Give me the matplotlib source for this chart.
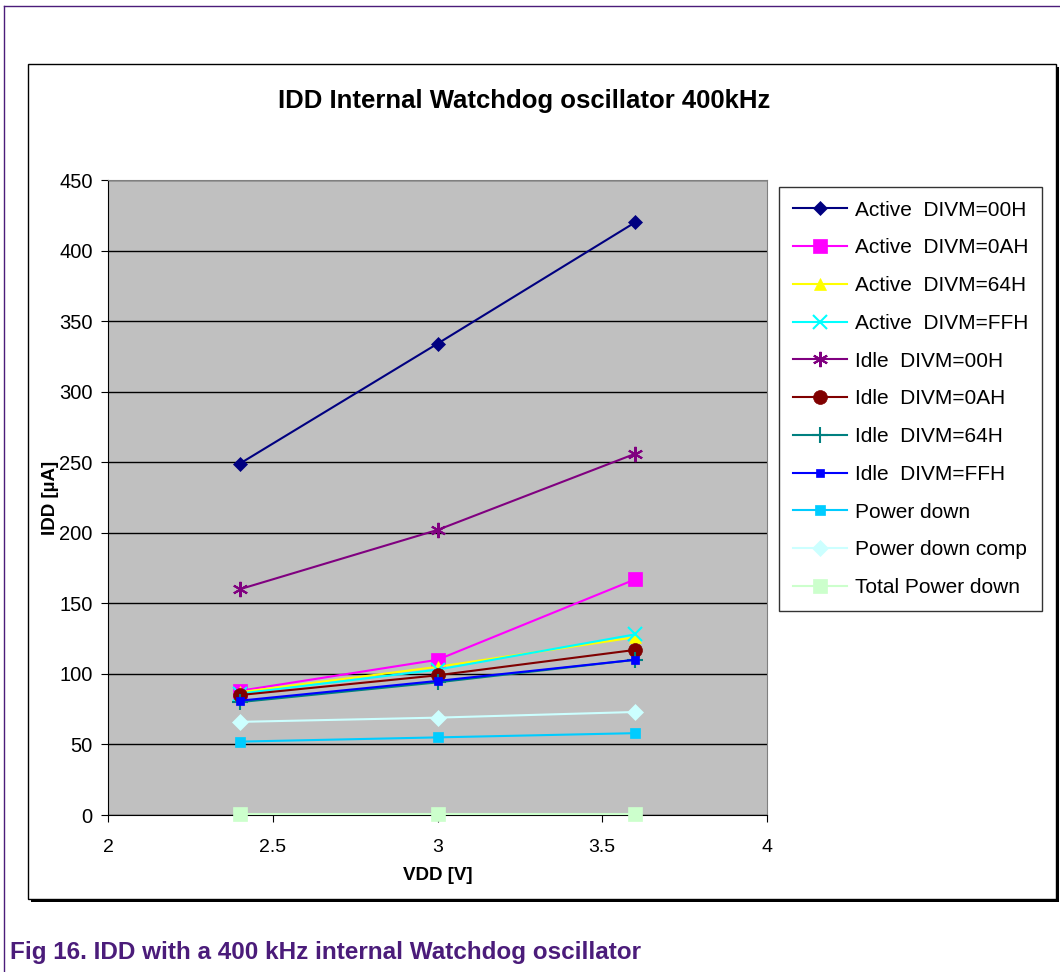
import matplotlib
matplotlib.use("Agg")
import matplotlib.pyplot as plt
from matplotlib.patches import Rectangle
from matplotlib.lines import Line2D

plt.rcParams['font.family'] = ['Liberation Sans', 'DejaVu Sans']

# data
vdd = [2.4, 3.0, 3.6]
series_names = ["Active  DIVM=00H", "Active  DIVM=0AH", "Active  DIVM=64H", "Active  DIVM=FFH",
                "Idle  DIVM=00H", "Idle  DIVM=0AH", "Idle  DIVM=64H", "Idle  DIVM=FFH",
                "Power down", "Power down comp", "Total Power down"]
active_00h = [249, 334, 420]
active_0ah = [88, 110, 167]
active_64h = [87, 105, 126]
active_ffh = [86, 103, 128]
idle_00h = [160, 202, 256]
idle_0ah = [85, 99, 117]
idle_64h = [80, 94, 110]
idle_ffh = [81, 95, 110]
power_down = [52, 55, 58]
power_down_comp = [66, 69, 73]
total_power_down = [1, 1, 1]

all_series = [active_00h, active_0ah, active_64h, active_ffh, idle_00h, idle_0ah,
              idle_64h, idle_ffh, power_down, power_down_comp, total_power_down]
colors = ['#000080', '#FF00FF', '#FFFF00', '#00FFFF', '#800080', '#800000',
          '#008080', '#0000FF', '#00CCFF', '#CCFFFF', '#CCFFCC']
markers = ['D', 's', '^', 'x', (6, 2, 0), 'o', '+', 's', 's', 'D', 's']
msizes = [7, 10, 9, 10, 11, 10, 11, 6, 7, 8, 10]

W, H = 1060, 972
fig = plt.figure(figsize=(W / 100, H / 100), dpi=100)

# page borders and chart frame with shadow
fig.add_artist(Line2D([4 / W, 4 / W], [0, 1 - 6 / H], color='#4B1C7A', lw=1))
fig.add_artist(Line2D([4 / W, 1], [1 - 6 / H, 1 - 6 / H], color='#4B1C7A', lw=1))
fig.add_artist(Rectangle((31 / W, 1 - 902 / H), 1028 / W, 835 / H, facecolor='black',
                         edgecolor='none', transform=fig.transFigure, zorder=0))
fig.add_artist(Rectangle((28 / W, 1 - 899 / H), 1028 / W, 835 / H, facecolor='white',
                         edgecolor='black', lw=1, transform=fig.transFigure, zorder=0))

ax = fig.add_axes([108 / W, 1 - 815 / H, 659 / W, 635 / H])
ax.set_facecolor('#C0C0C0')
for name, ys, c, m, ms in zip(series_names, all_series, colors, markers, msizes):
    ax.plot(vdd, ys, color=c, marker=m, markersize=ms, lw=1.5, label=name,
            markeredgewidth=1.5 if m in ('x', '+') or isinstance(m, tuple) else 0.5,
            markeredgecolor=c, clip_on=False, zorder=3)

ax.set_xlim(2, 4)
ax.set_ylim(0, 450)
ax.set_xticks([2, 2.5, 3, 3.5, 4])
ax.set_xticklabels(['2', '2.5', '3', '3.5', '4'])
ax.set_yticks(range(0, 451, 50))
ax.yaxis.grid(True, color='black', lw=1)
ax.set_axisbelow(True)
ax.tick_params(axis='x', labelsize=14, length=5, direction='out', pad=12)
ax.tick_params(axis='y', labelsize=14.5, length=5, direction='out', pad=6)
for s in ax.spines.values():
    s.set_color('black')
ax.spines['top'].set_color('#808080')
ax.spines['right'].set_color('#808080')

ax.set_xlabel('VDD [V]', fontsize=13.5, fontweight='bold')
ax.xaxis.set_label_coords(0.5, -0.0945)
ax.set_ylabel('IDD [µA]', fontsize=13.5, fontweight='bold')
ax.yaxis.set_label_coords(-0.088, 0.5)
ax.yaxis.label.set_va('center')
ax.xaxis.label.set_va('center')
fig.text(524 / W, 1 - 101 / H, 'IDD Internal Watchdog oscillator 400kHz',
         fontsize=18.5, fontweight='bold', ha='center', va='center')

leg = ax.legend(loc='upper left', bbox_to_anchor=(779 / W, 1 - 187 / H), bbox_transform=fig.transFigure,
                fontsize=15, frameon=True, fancybox=False, edgecolor='black', labelspacing=0.9,
                handlelength=2.6, handletextpad=0.4, borderpad=0.65, borderaxespad=0)
leg.get_frame().set_linewidth(1)

fig.text(10 / W, 1 - 952 / H, 'Fig 16. IDD with a 400 kHz internal Watchdog oscillator',
         fontsize=17.5, fontweight='bold', color='#4B1C7A', ha='left', va='center')

fig.savefig('out.png', dpi=100)
